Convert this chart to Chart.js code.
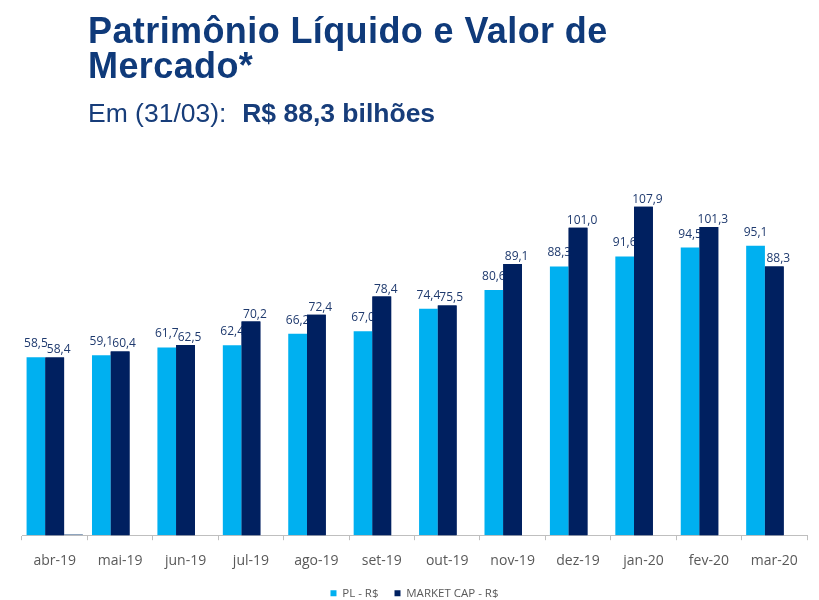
<!DOCTYPE html>
<html>
<head>
<meta charset="utf-8">
<script src="https://cdn.jsdelivr.net/npm/chart.js@4.4.1/dist/chart.umd.min.js"></script>
<style>
  html, body { margin: 0; padding: 0; background: #ffffff; }
  #wrap { position: relative; width: 819px; height: 600px; overflow: hidden; }
  canvas { position: absolute; left: 0; top: 0; }
  .t { position: absolute; left: 88px; white-space: nowrap; color: #0f3a7a; font-family: "Liberation Sans", Arial, sans-serif; }
  .title { font-size: 36px; line-height: 36px; font-weight: bold; letter-spacing: 0.4px; }
  .sub { font-size: 26.5px; line-height: 26px; color: #173d7a; }
  .sub b { font-weight: bold; margin-left: 1px; }
</style>
</head>
<body>
<div id="wrap">
  <canvas id="c" width="819" height="600"></canvas>
  <div class="t title" style="top:13px">Patrimônio Líquido e Valor de</div>
  <div class="t title" style="top:48px">Mercado*</div>
  <div class="t sub" style="top:100px">Em (31/03):&nbsp; <b>R$ 88,3 bilhões</b></div>
</div>
<script>
const categories = ['abr-19','mai-19','jun-19','jul-19','ago-19','set-19','out-19','nov-19','dez-19','jan-20','fev-20','mar-20'];
const plValues = [58.5, 59.1, 61.7, 62.4, 66.2, 67.0, 74.4, 80.6, 88.3, 91.6, 94.5, 95.1];
const mcValues = [58.4, 60.4, 62.5, 70.2, 72.4, 78.4, 75.5, 89.1, 101.0, 107.9, 101.3, 88.3];
const extraValues = [0.3, null, null, null, null, null, null, null, null, null, null, null];
const seriesNames = ['PL - R$', 'MARKET CAP - R$', ''];

const fmt = v => v.toFixed(1).replace('.', ',');

function drawLabels(chart, index, gap, dx) {
  const ctx = chart.ctx;
  const ds = chart.data.datasets[index];
  const meta = chart.getDatasetMeta(index);
  ctx.save();
  ctx.font = '12px "Open Sans", sans-serif';
  ctx.fillStyle = '#1f3a6e';
  ctx.textAlign = 'center';
  ctx.textBaseline = 'alphabetic';
  meta.data.forEach((bar, i) => {
    const v = ds.data[i];
    if (v == null) return;
    ctx.fillText(fmt(v), bar.x + dx, bar.y - gap);
  });
  ctx.restore();
}

const labelPlugin = {
  id: 'barLabels',
  afterDatasetsDraw(chart) {
    const ctx = chart.ctx;
    // PL labels first, then MC bars repainted on top (as in the reference), then MC labels
    drawLabels(chart, 0, 10, 0);
    ctx.save();
    chart.getDatasetMeta(1).data.forEach(el => el.draw(ctx));
    ctx.restore();
    drawLabels(chart, 1, 4, 4);
  }
};

new Chart(document.getElementById('c'), {
  type: 'bar',
  data: {
    labels: categories,
    datasets: [
      { label: seriesNames[0], data: plValues, backgroundColor: '#00b0f0' },
      { label: seriesNames[1], data: mcValues, backgroundColor: '#002060' },
      { label: seriesNames[2], data: extraValues, backgroundColor: '#6a87a8' }
    ]
  },
  options: {
    responsive: false,
    devicePixelRatio: 1,
    animation: false,
    categoryPercentage: 0.86,
    barPercentage: 1,
    layout: { padding: { top: 170, left: 22, right: 12, bottom: -9 } },
    scales: {
      x: {
        afterFit: s => { s.height -= 9.5; },
        grid: { display: true, offset: true, drawOnChartArea: false, drawTicks: true, tickLength: 5, color: '#bfbfbf' },
        border: { display: true, color: '#bfbfbf', width: 1 },
        ticks: { color: '#595959', font: { family: '"Open Sans", sans-serif', size: 14 }, padding: 12, maxRotation: 0, autoSkip: false }
      },
      y: { display: false, min: 0, max: 120 }
    },
    plugins: {
      legend: {
        position: 'bottom',
        labels: {
          boxWidth: 6, boxHeight: 6, padding: 16, color: '#595959',
          font: { family: '"Open Sans", sans-serif', size: 11.5 },
          filter: item => item.text !== ''
        }
      },
      tooltip: { enabled: false }
    }
  },
  plugins: [labelPlugin]
});
</script>
</body>
</html>
